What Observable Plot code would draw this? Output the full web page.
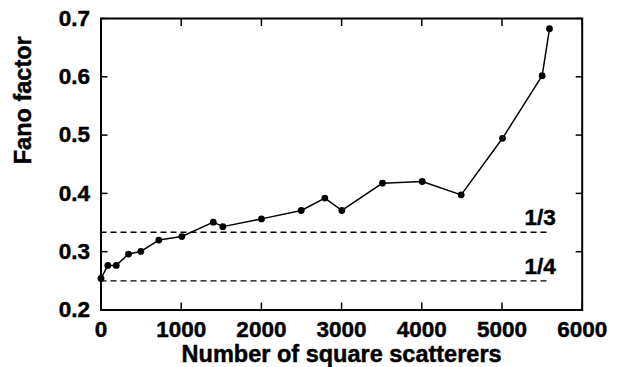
<!DOCTYPE html>
<html>
<head>
<meta charset="utf-8">
<script src="https://cdn.jsdelivr.net/npm/d3@7"></script>
<script src="https://cdn.jsdelivr.net/npm/@observablehq/plot@0.6"></script>
<style>
  html, body { margin: 0; padding: 0; background: #fff; }
  svg text { font-family: "Liberation Sans", Arial, sans-serif; font-weight: bold; stroke: #000; stroke-width: 0.45px; }
</style>
</head>
<body>
<div id="chart"></div>
<script>
const scatterers = [0, 85, 190, 343, 497, 721, 1008, 1400, 1519, 2001, 2497, 2791, 3003, 3510, 4005, 4491, 5006, 5501, 5592];
const fano = [0.254, 0.2765, 0.2765, 0.296, 0.3005, 0.32, 0.326, 0.3507, 0.343, 0.3563, 0.3707, 0.392, 0.3707, 0.4175, 0.4204, 0.3975, 0.4945, 0.602, 0.6824];
const refLevels = [1/3, 1/4];
const refLabels = ["1/3", "1/4"];
const refEnd = 5600;
const refLabelX = 5670;
const xTicks = [0, 1000, 2000, 3000, 4000, 5000, 6000];
const yTicks = [0.2, 0.3, 0.4, 0.5, 0.6, 0.7];
const xLabel = "Number of square scatterers";
const yLabel = "Fano factor";

const data = scatterers.map((x, i) => ({x, y: fano[i]}));
const refs = refLevels.map((v, i) => ({v, label: refLabels[i]}));

const fs = 22.5;
const lfs = 23.5;
const plot = Plot.plot({
  width: 623,
  height: 367,
  marginLeft: 100.5,
  marginRight: 41.3,
  marginTop: 18,
  marginBottom: 57.5,
  style: {fontFamily: "Liberation Sans, Arial, sans-serif", fontWeight: "bold", background: "#fff"},
  x: {domain: [0, 6000]},
  y: {domain: [0.2, 0.7]},
  marks: [
    Plot.ruleY(refs, {y: "v", x1: 0, x2: refEnd, stroke: "#000", strokeWidth: 1.3, strokeDasharray: "6,4"}),
    Plot.text(refs, {x: refLabelX, y: "v", text: "label", textAnchor: "end", lineAnchor: "bottom", dy: -7, fontSize: fs, fontWeight: "bold", fill: "#000"}),
    Plot.line(data, {x: "x", y: "y", stroke: "#000", strokeWidth: 1.5}),
    Plot.dot(data, {x: "x", y: "y", r: 3.4, fill: "#000", stroke: "none"}),
    Plot.axisX(xTicks, {anchor: "bottom", tickSize: -7, tickPadding: 18, fontSize: fs, fontWeight: "bold", tickFormat: d => String(d), label: null, strokeWidth: 1.5}),
    Plot.axisX(xTicks, {anchor: "top", tickSize: -7, tickFormat: () => "", label: null, strokeWidth: 1.5}),
    Plot.axisY(yTicks, {anchor: "left", tickSize: -7, tickPadding: 18, fontSize: fs, fontWeight: "bold", tickFormat: d => d.toFixed(1), label: null, strokeWidth: 1.5}),
    Plot.axisY(yTicks, {anchor: "right", tickSize: -7, tickFormat: () => "", label: null, strokeWidth: 1.5}),
    Plot.frame({stroke: "#000", strokeWidth: 2}),
    Plot.text([xLabel], {frameAnchor: "bottom", text: d => d, lineAnchor: "top", dy: 35.5, fontSize: lfs, fontWeight: "bold", fill: "#000"}),
    Plot.text([yLabel], {frameAnchor: "left", text: d => d, rotate: -90, lineAnchor: "middle", dx: -78, fontSize: lfs, fontWeight: "bold", fill: "#000"})
  ]
});
document.getElementById("chart").appendChild(plot);
</script>
</body>
</html>
